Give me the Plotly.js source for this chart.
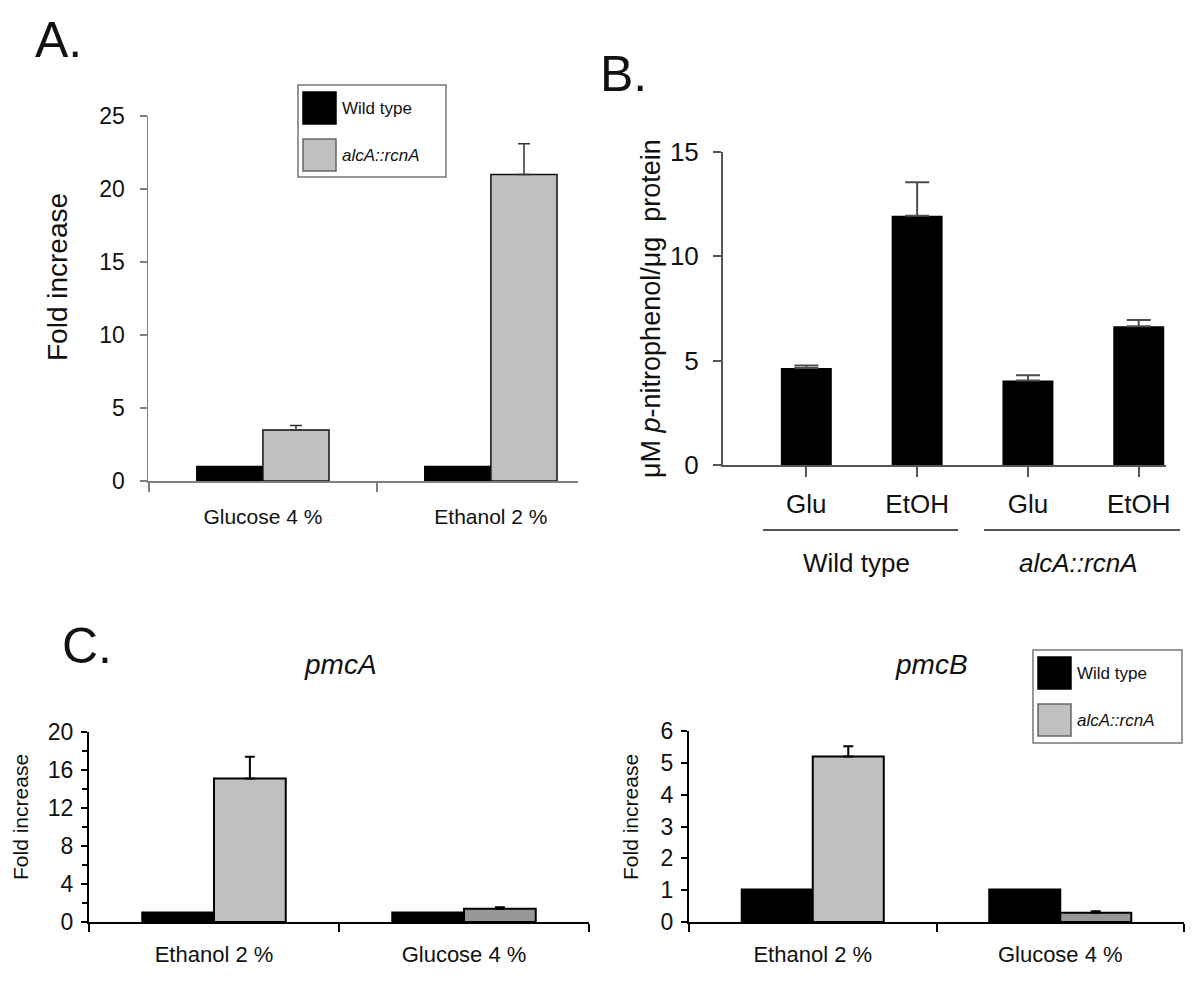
<!DOCTYPE html>
<html>
<head>
<meta charset="utf-8">
<script src="https://cdn.plot.ly/plotly-3.0.1.min.js"></script>
<style>
  html, body { margin: 0; padding: 0; background: #ffffff; }
  #chart { width: 1200px; height: 992px; }
</style>
</head>
<body>
<div id="chart"></div>
<script>
// ---------------- DATA ----------------
const seriesNames = ["Wild type", "alcA::rcnA"];

// Panel A
const aCategories = ["Glucose 4 %", "Ethanol 2 %"];
const aWildType = [1.0, 1.0];
const aAlcRcnA = [3.5, 21.0];
const aAlcRcnAErr = [0.3, 2.1];

// Panel B
const bConditions = ["Glu", "EtOH", "Glu", "EtOH"];
const bStrains = ["Wild type", "Wild type", "alcA::rcnA", "alcA::rcnA"];
const bValues = [4.65, 11.95, 4.05, 6.65];
const bErrors = [0.12, 1.6, 0.25, 0.3];
const bGroupLabels = ["Wild type", "alcA::rcnA"];

// Panel C
const cCategories = ["Ethanol 2 %", "Glucose 4 %"];
const pmcAWildType = [1.0, 1.0];
const pmcAAlc = [15.1, 1.4];
const pmcAAlcErr = [2.3, 0.15];
const pmcBWildType = [1.02, 1.02];
const pmcBAlc = [5.2, 0.29];
const pmcBAlcErr = [0.32, 0.05];

// ---------------- HELPERS ----------------
const W = 1200, H = 992;
const px = v => v / W;
const py = v => 1 - v / H;
const FONT = "Liberation Sans, Arial, Helvetica, sans-serif";
const GRAY = "#c0c0c0";
const DARKGRAY = "#979797";
const zeros = arr => arr.map(() => 0);

const bKeys = bConditions.map((c, i) => bStrains[i] + " " + c);

const traces = [];

// Panel A traces
traces.push({
  type: "bar", name: seriesNames[0], x: aCategories, y: aWildType,
  xaxis: "x", yaxis: "y", offset: -0.29, width: 0.29,
  marker: { color: "#000000", line: { color: "#000000", width: 1.5 } },
  showlegend: false, hoverinfo: "skip"
});
traces.push({
  type: "bar", name: seriesNames[1], x: aCategories, y: aAlcRcnA,
  xaxis: "x", yaxis: "y", offset: 0, width: 0.29,
  marker: { color: GRAY, line: { color: "#111111", width: 1.5 } },
  error_y: { type: "data", array: aAlcRcnAErr, arrayminus: zeros(aAlcRcnAErr), symmetric: false,
             color: "#333333", thickness: 1.5, width: 6 },
  showlegend: false, hoverinfo: "skip"
});

// Panel B trace
traces.push({
  type: "bar", name: "p-nitrophenol", x: bKeys, y: bValues,
  xaxis: "x2", yaxis: "y2", width: 0.46,
  marker: { color: "#000000", line: { width: 0 } },
  error_y: { type: "data", array: bErrors, arrayminus: zeros(bErrors), symmetric: false,
             color: "#4d4d4d", thickness: 2, width: 12 },
  showlegend: false, hoverinfo: "skip"
});

// Panel C left (pmcA)
traces.push({
  type: "bar", name: seriesNames[0], x: cCategories, y: pmcAWildType,
  xaxis: "x3", yaxis: "y3", offset: -0.287, width: 0.287,
  marker: { color: "#000000", line: { color: "#000000", width: 2 } },
  showlegend: false, hoverinfo: "skip"
});
traces.push({
  type: "bar", name: seriesNames[1], x: cCategories, y: pmcAAlc,
  xaxis: "x3", yaxis: "y3", offset: 0, width: 0.287,
  marker: { color: [GRAY, DARKGRAY], line: { color: "#000000", width: 2 } },
  error_y: { type: "data", array: pmcAAlcErr, arrayminus: zeros(pmcAAlcErr), symmetric: false,
             color: "#000000", thickness: 2, width: 5 },
  showlegend: false, hoverinfo: "skip"
});

// Panel C right (pmcB)
traces.push({
  type: "bar", name: seriesNames[0], x: cCategories, y: pmcBWildType,
  xaxis: "x4", yaxis: "y4", offset: -0.287, width: 0.287,
  marker: { color: "#000000", line: { color: "#000000", width: 2 } },
  showlegend: false, hoverinfo: "skip"
});
traces.push({
  type: "bar", name: seriesNames[1], x: cCategories, y: pmcBAlc,
  xaxis: "x4", yaxis: "y4", offset: 0, width: 0.287,
  marker: { color: [GRAY, DARKGRAY], line: { color: "#000000", width: 2 } },
  error_y: { type: "data", array: pmcBAlcErr, arrayminus: zeros(pmcBAlcErr), symmetric: false,
             color: "#000000", thickness: 2, width: 5 },
  showlegend: false, hoverinfo: "skip"
});

// ---------------- AXES ----------------
function xAxis(d0, d1, anchor, range, opts) {
  return Object.assign({
    domain: [px(d0), px(d1)], anchor: anchor, type: "category", range: range,
    showline: true, showgrid: false, zeroline: false, ticks: "outside",
    fixedrange: true
  }, opts);
}
function yAxis(top, bottom, anchor, range, opts) {
  return Object.assign({
    domain: [py(bottom), py(top)], anchor: anchor, range: range,
    showline: true, showgrid: false, zeroline: false, ticks: "outside",
    fixedrange: true
  }, opts);
}

const layout = {
  width: W, height: H,
  margin: { l: 0, r: 0, t: 0, b: 0, pad: 0 },
  paper_bgcolor: "#ffffff", plot_bgcolor: "rgba(0,0,0,0)",
  font: { family: FONT, color: "#111111" },
  barmode: "overlay",
  showlegend: false,

  xaxis: xAxis(148, 578, "y", [-0.504, 1.382], {
    tickson: "boundaries", ticklen: 9, linecolor: "#808080", linewidth: 1.5,
    tickcolor: "#808080", tickwidth: 1.5, tickfont: { size: 21, color: "#111" },
    ticklabelstandoff: 16
  }),
  yaxis: yAxis(116, 481, "x", [0, 25], {
    dtick: 5, ticklen: 7, linecolor: "#808080", linewidth: 1.5,
    tickcolor: "#808080", tickwidth: 1.5, tickfont: { size: 23, color: "#111" },
    ticklabelstandoff: 10
  }),

  xaxis2: xAxis(723, 1166, "y2", [-0.752, 3.246], {
    ticklen: 10, linecolor: "#555555", linewidth: 2, tickcolor: "#555555", tickwidth: 2,
    tickvals: bKeys, ticktext: bConditions, tickfont: { size: 26, color: "#111" },
    ticklabelstandoff: 5
  }),
  yaxis2: yAxis(152, 465, "x2", [0, 15], {
    dtick: 5, ticklen: 8, linecolor: "#555555", linewidth: 2, tickcolor: "#555555", tickwidth: 2,
    tickfont: { size: 26, color: "#111" }, ticklabelstandoff: 9
  }),

  xaxis3: xAxis(89, 589, "y3", [-0.5, 1.5], {
    tickson: "boundaries", ticklen: 8, linecolor: "#000", linewidth: 2, tickcolor: "#000", tickwidth: 2,
    tickfont: { size: 22, color: "#111" }, ticklabelstandoff: 12
  }),
  yaxis3: yAxis(732, 922, "x3", [0, 20], {
    dtick: 4, ticklen: 6, linecolor: "#000", linewidth: 2, tickcolor: "#000", tickwidth: 2,
    tickfont: { size: 23, color: "#111" }, ticklabelstandoff: 3,
    minor: { dtick: 2, ticks: "outside", ticklen: 5, tickcolor: "#000", tickwidth: 1.5 }
  }),

  xaxis4: xAxis(689, 1184, "y4", [-0.5, 1.5], {
    tickson: "boundaries", ticklen: 8, linecolor: "#000", linewidth: 2, tickcolor: "#000", tickwidth: 2,
    tickfont: { size: 22, color: "#111" }, ticklabelstandoff: 12
  }),
  yaxis4: yAxis(731, 922, "x4", [0, 6], {
    dtick: 1, ticklen: 6, linecolor: "#000", linewidth: 2, tickcolor: "#000", tickwidth: 2,
    tickfont: { size: 23, color: "#111" }, ticklabelstandoff: 3
  }),

  shapes: [],
  annotations: []
};

function ann(text, x, y, size, extra) {
  layout.annotations.push(Object.assign({
    text: text, x: px(x), y: py(y), xref: "paper", yref: "paper",
    showarrow: false, xanchor: "center", yanchor: "middle",
    font: { family: FONT, size: size, color: "#111111" }
  }, extra || {}));
}

// Panel letters
ann("A.", 33, 40, 50, { xanchor: "left" });
ann("B.", 598, 74, 50, { xanchor: "left" });
ann("C.", 60, 646, 50, { xanchor: "left" });

// Y-axis titles
ann("Fold increase", 57, 277, 28, { textangle: -90 });
ann("μM <i>p</i>-nitrophenol/μg  protein", 651, 309, 27, { textangle: -90 });
ann("Fold increase", 20, 817, 21, { textangle: -90 });
ann("Fold increase", 630, 817, 21, { textangle: -90 });

// Panel C titles
ann("<i>pmcA</i>", 340, 664, 28);
ann("<i>pmcB</i>", 932, 664, 28);

// Panel B group lines and labels
const bGroupSpans = [[763, 958], [984, 1180]];
bGroupLabels.forEach((g, i) => {
  const [x0, x1] = bGroupSpans[i];
  layout.shapes.push({ type: "line", xref: "paper", yref: "paper",
    x0: px(x0), x1: px(x1), y0: py(530), y1: py(530),
    line: { color: "#555555", width: 2 } });
  ann(i === 1 ? "<i>" + g + "</i>" : g, (x0 + x1) / 2 - 4, 563, 26);
});

// Legends (drawn as boxes + text)
function legend(x0, y0, x1, y1) {
  layout.shapes.push({ type: "rect", xref: "paper", yref: "paper",
    x0: px(x0), x1: px(x1), y0: py(y1), y1: py(y0),
    line: { color: "#777777", width: 1.5 }, fillcolor: "rgba(255,255,255,0)" });
  const sx0 = x0 + 5, sx1 = x0 + 38;
  const rows = [[y0 + 7, y0 + 39], [y0 + 54, y0 + 86]];
  const fills = ["#000000", GRAY];
  const lines = ["#000000", "#666666"];
  seriesNames.forEach((n, i) => {
    layout.shapes.push({ type: "rect", xref: "paper", yref: "paper",
      x0: px(sx0), x1: px(sx1), y0: py(rows[i][1]), y1: py(rows[i][0]),
      fillcolor: fills[i], line: { color: lines[i], width: 1.5 } });
    ann(i === 1 ? "<i>" + n + "</i>" : n, sx1 + 4, (rows[i][0] + rows[i][1]) / 2, 17,
        { xanchor: "left" });
  });
}
legend(298, 85, 446, 177);
legend(1033, 650, 1182, 743);

Plotly.newPlot("chart", traces, layout, { staticPlot: true, displayModeBar: false });
</script>
</body>
</html>
